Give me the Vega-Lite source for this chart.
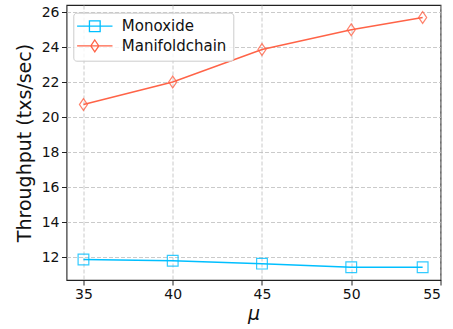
{
  "$schema": "https://vega.github.io/schema/vega-lite/v6.json",
  "autosize": {"type": "none"},
  "width": 374,
  "height": 275,
  "padding": {"left": 66.5, "top": 5, "right": 12.5, "bottom": 49},
  "background": "white",
  "config": {
    "view": {"stroke": "#222", "strokeWidth": 1.1},
    "font": "DejaVu Sans",
    "axis": {
      "domain": false,
      "grid": true,
      "gridColor": "#bdbdbd",
      "gridDash": [4, 2],
      "gridWidth": 0.8,
      "tickColor": "#222",
      "tickSize": 5,
      "tickWidth": 1,
      "labelFont": "DejaVu Sans",
      "labelFontSize": 14,
      "labelColor": "#111",
      "titleFont": "DejaVu Sans",
      "titleFontWeight": "normal",
      "titleFontSize": 19,
      "titleColor": "#111"
    }
  },
  "data": {
    "values": [
      {"mu": 35, "throughput": 11.86, "series": "Monoxide"},
      {"mu": 40, "throughput": 11.79, "series": "Monoxide"},
      {"mu": 45, "throughput": 11.62, "series": "Monoxide"},
      {"mu": 50, "throughput": 11.41, "series": "Monoxide"},
      {"mu": 54, "throughput": 11.41, "series": "Monoxide"},
      {"mu": 35, "throughput": 20.72, "series": "Manifoldchain"},
      {"mu": 40, "throughput": 22.01, "series": "Manifoldchain"},
      {"mu": 45, "throughput": 23.87, "series": "Manifoldchain"},
      {"mu": 50, "throughput": 25.0, "series": "Manifoldchain"},
      {"mu": 54, "throughput": 25.7, "series": "Manifoldchain"}
    ]
  },
  "encoding": {
    "x": {
      "field": "mu",
      "type": "quantitative",
      "scale": {"domain": [34.05, 55], "nice": false, "zero": false},
      "axis": {"values": [35, 40, 45, 50, 55], "title": "μ", "titleFontStyle": "italic", "labelPadding": 2, "titlePadding": 3}
    },
    "y": {
      "field": "throughput",
      "type": "quantitative",
      "scale": {"domain": [10.685, 26.415], "nice": false, "zero": false},
      "axis": {"values": [12, 14, 16, 18, 20, 22, 24, 26], "title": "Throughput (txs/sec)", "labelPadding": 2.5, "titlePadding": 7}
    },
    "color": {
      "field": "series",
      "type": "nominal",
      "scale": {"domain": ["Monoxide", "Manifoldchain"], "range": ["#00BFFF", "#FF6347"]},
      "legend": {
        "title": null,
        "orient": "none",
        "legendX": 6.8,
        "legendY": 7.7,
        "padding": 6,
        "symbolOffset": 8,
        "symbolSize": 115,
        "symbolStrokeWidth": 1.3,
        "symbolFillColor": "transparent",
        "labelOffset": 19.5,
        "rowPadding": 2.7,
        "labelFont": "DejaVu Sans",
        "labelFontSize": 15,
        "labelColor": "#111",
        "strokeColor": "#cccccc",
        "fillColor": "rgba(255,255,255,0.8)",
        "cornerRadius": 3,
        "encode": {
          "symbols": {
            "update": {
              "shape": {"signal": "datum.value === 'Monoxide' ? 'M-3.3,0H3.3M-1,-1H1V1H-1Z' : 'M-3.3,0H3.3M0,-1.1L0.75,0L0,1.1L-0.75,0Z'"},
              "fill": {"value": "transparent"}
            }
          }
        }
      }
    }
  },
  "layer": [
    {
      "mark": {"type": "line", "strokeWidth": 1.5}
    },
    {
      "transform": [{"filter": "datum.series === 'Monoxide'"}],
      "mark": {"type": "point", "filled": false, "strokeWidth": 1.2, "opacity": 0.8, "size": 115, "shape": "M-1,-1H1V1H-1Z"}
    },
    {
      "transform": [{"filter": "datum.series === 'Manifoldchain'"}],
      "mark": {"type": "point", "filled": false, "strokeWidth": 1.2, "opacity": 0.8, "size": 115, "shape": "M0,-1.1L0.75,0L0,1.1L-0.75,0Z"}
    }
  ]
}
